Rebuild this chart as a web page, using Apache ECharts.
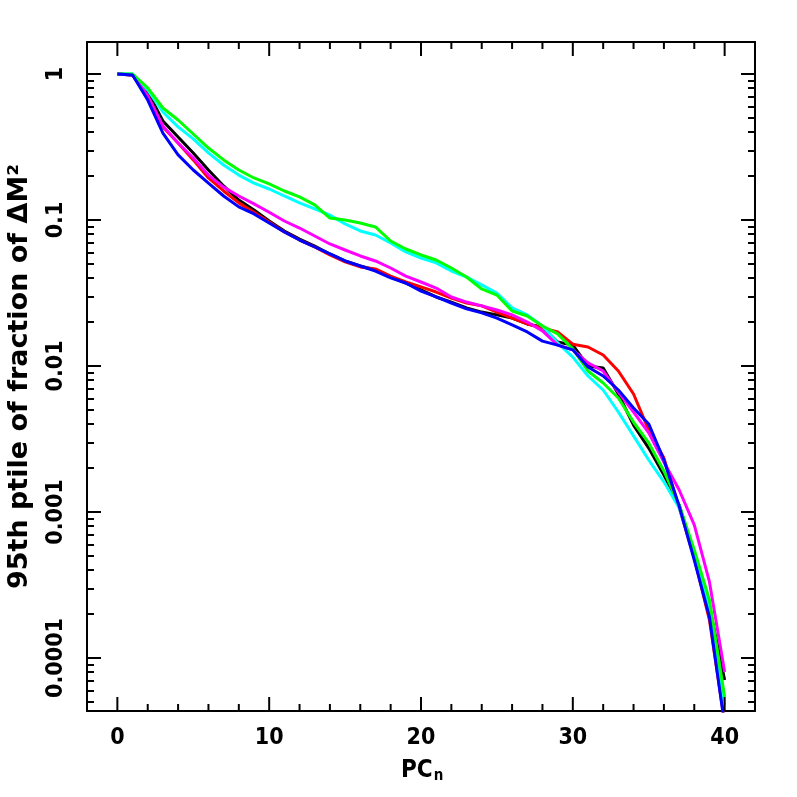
<!DOCTYPE html>
<html><head><meta charset="utf-8">
<script src="https://cdn.jsdelivr.net/npm/echarts@6/dist/echarts.min.js"></script>
<style>html,body{margin:0;padding:0;background:#fff}#c{width:797px;height:797px}</style>
</head><body><div id="c"></div>
<script>
// PC index
const pcN = [0,1,2,3,4,5,6,7,8,9,10,11,12,13,14,15,16,17,18,19,20,21,22,23,24,25,26,27,28,29,30,31,32,33,34,35,36,37,38,39,40];
// 95th percentile of fraction of ΔM², one array per curve
const blackVals = [1,0.984,0.753,0.477,0.370,0.288,0.220,0.171,0.137,0.117,0.0984,0.0841,0.0741,0.0663,0.0585,0.0524,0.0484,0.0454,0.0407,0.0370,0.0332,0.0297,0.0274,0.0250,0.0234,0.0224,0.0213,0.0194,0.0185,0.0146,0.0139,0.0100,0.00969,0.00643,0.00394,0.00274,0.00179,0.00112,0.000508,0.000224,0.0000707];
const redVals = [1,0.984,0.707,0.434,0.337,0.258,0.194,0.158,0.131,0.113,0.0969,0.0828,0.0729,0.0653,0.0576,0.0516,0.0477,0.0462,0.0413,0.0376,0.0348,0.0321,0.0292,0.0270,0.0258,0.0234,0.0213,0.0194,0.0182,0.0171,0.0141,0.0135,0.0119,0.00924,0.00643,0.00364,0.00234,0.00108,0.000484,0.000182,0.0000364];
const blueVals = [1,0.984,0.663,0.394,0.279,0.220,0.179,0.146,0.123,0.110,0.0954,0.0828,0.0729,0.0653,0.0585,0.0524,0.0484,0.0447,0.0401,0.0370,0.0326,0.0297,0.0270,0.0246,0.0231,0.0213,0.0191,0.0171,0.0148,0.0139,0.0129,0.00984,0.00854,0.00685,0.00516,0.00401,0.00227,0.00110,0.000469,0.000191,0.0000348];
const magentaVals = [1,0.984,0.707,0.440,0.337,0.266,0.203,0.168,0.146,0.129,0.113,0.0984,0.0881,0.0777,0.0685,0.0623,0.0567,0.0524,0.0469,0.0413,0.0376,0.0342,0.0297,0.0274,0.0258,0.0242,0.0224,0.0200,0.0174,0.0139,0.0129,0.0105,0.00924,0.00663,0.00484,0.00348,0.00220,0.00142,0.000815,0.000332,0.0000802];
const greenVals = [1,1,0.802,0.585,0.484,0.388,0.311,0.258,0.220,0.194,0.177,0.158,0.144,0.127,0.103,0.100,0.0954,0.0896,0.0718,0.0633,0.0576,0.0532,0.0469,0.0407,0.0337,0.0306,0.0238,0.0220,0.0188,0.0166,0.0131,0.00924,0.00765,0.00604,0.00413,0.00297,0.00191,0.00112,0.000549,0.000250,0.0000541];
const cyanVals = [1,1,0.777,0.549,0.434,0.359,0.288,0.238,0.203,0.179,0.163,0.146,0.131,0.119,0.108,0.0939,0.0841,0.0789,0.0696,0.0604,0.0549,0.0508,0.0447,0.0407,0.0359,0.0316,0.0250,0.0224,0.0188,0.0144,0.0115,0.00854,0.00685,0.00484,0.00332,0.00227,0.00161,0.00107,0.000524,0.000213,0.0000477];
// tick labels / tick positions
const xMajor = [0,10,20,30,40];
const xMinor = [0,2,4,6,8,10,12,14,16,18,20,22,24,26,28,30,32,34,36,38,40];
const yMajor = [0.0001,0.001,0.01,0.1,1];
const yMinor = [0.00005,0.00006,0.00007,0.00008,0.00009,
  0.0002,0.0003,0.0004,0.0005,0.0006,0.0007,0.0008,0.0009,
  0.002,0.003,0.004,0.005,0.006,0.007,0.008,0.009,
  0.02,0.03,0.04,0.05,0.06,0.07,0.08,0.09,
  0.2,0.3,0.4,0.5,0.6,0.7,0.8,0.9];
const yLabelText = ['0.0001','0.001','0.01','0.1','1'];

const TICKFONT = "'Liberation Sans Narrow', 'DejaVu Sans Condensed', 'DejaVu Sans', sans-serif";
const FONT = "'DejaVu Sans', sans-serif";
const XMIN = -2, XMAX = 42, YMIN = 4.335e-5, YMAX = 1.656;

function xAx(pos, values, showLabel, showLine) {
  const lab = showLabel
    ? { show: true, customValues: values, margin: 16, color: '#000', fontSize: 23, fontWeight: 'bold', fontFamily: TICKFONT }
    : { show: false, customValues: values };
  return {
    type: 'value', position: pos, min: XMIN, max: XMAX,
    axisLine: { show: showLine, onZero: false, lineStyle: { color: '#000', width: 2 } },
    axisTick: { show: false },
    axisLabel: lab,
    splitLine: { show: false }
  };
}
function yAx(pos, values, len, showLabel, showLine) {
  const lab = showLabel
    ? { show: true, customValues: values, rotate: 90, margin: 19, color: '#000', fontSize: 23, fontWeight: 'bold', fontFamily: TICKFONT,
        formatter: v => { const i = yMajor.findIndex(m => Math.abs(m - v) / m < 1e-6); return i >= 0 ? yLabelText[i] : ''; } }
    : { show: false, customValues: values };
  return {
    type: 'log', logBase: 10, position: pos, min: YMIN, max: YMAX,
    axisLine: { show: showLine, onZero: false, lineStyle: { color: '#000', width: 2 } },
    axisTick: { show: true, inside: true, length: len, customValues: values, lineStyle: { color: '#000', width: 2 } },
    axisLabel: lab,
    splitLine: { show: false }
  };
}

const xAxes = [xAx('bottom', xMajor, true, true), xAx('top', xMajor, false, true)];

const yAxes = [yAx('left', yMajor, 14, true, true), yAx('left', yMinor, 7, false, false),
  yAx('right', yMajor, 14, false, true), yAx('right', yMinor, 7, false, false)];
yAxes[0].name = '95th ptile of fraction of ΔM²';
yAxes[0].nameLocation = 'middle';
yAxes[0].nameGap = 54;
yAxes[0].nameTextStyle = { fontSize: 27, fontWeight: 'bold', fontFamily: FONT, color: '#000' };

function mk(name, vals, color) {
  return { name, type: 'line', xAxisIndex: 0, yAxisIndex: 0, showSymbol: false, symbol: 'none', clip: true,
    data: pcN.map((n, i) => [n, vals[i]]), lineStyle: { color, width: 3 }, itemStyle: { color } };
}

// x-axis tick marks (bottom and top, pointing inward), placed through the axis scale
const xTickSeries = {
  type: 'custom', xAxisIndex: 0, yAxisIndex: 0, silent: true, z: 10,
  data: xMinor.map(v => [v, 1]),
  renderItem: (params, api) => {
    const x = api.value(0);
    const len = xMajor.indexOf(x) >= 0 ? 14 : 7;
    const pb = api.coord([x, YMIN]);
    const pt = api.coord([x, YMAX]);
    return { type: 'group', children: [
      { type: 'line', shape: { x1: pb[0], y1: pb[1], x2: pb[0], y2: pb[1] - len }, style: { stroke: '#000', lineWidth: 2 } },
      { type: 'line', shape: { x1: pt[0], y1: pt[1], x2: pt[0], y2: pt[1] + len }, style: { stroke: '#000', lineWidth: 2 } }
    ] };
  }
};

const chart = echarts.init(document.getElementById('c'), null, { renderer: 'canvas' });
chart.setOption({
  backgroundColor: '#fff',
  animation: false,
  title: {
    text: '{a|PC}{b|n}', left: 401, top: 757, padding: 0,
    textStyle: { rich: {
      a: { fontSize: 24, fontWeight: 'bold', fontFamily: TICKFONT, color: '#000' },
      b: { fontSize: 15, fontWeight: 'bold', fontFamily: TICKFONT, color: '#000', verticalAlign: 'bottom', padding: [12, 0, 0, 1] } } }
  },
  grid: { left: 87, right: 42, top: 42, bottom: 86, containLabel: false, outerBoundsMode: 'none' },
  xAxis: xAxes,
  yAxis: yAxes,
  series: [
    mk('black', blackVals, '#000000'),
    mk('red', redVals, '#ff0000'),
    mk('cyan', cyanVals, '#00ffff'),
    mk('magenta', magentaVals, '#ff00ff'),
    mk('green', greenVals, '#00ff00'),
    mk('blue', blueVals, '#0000ff'),
    xTickSeries
  ]
});
</script></body></html>
